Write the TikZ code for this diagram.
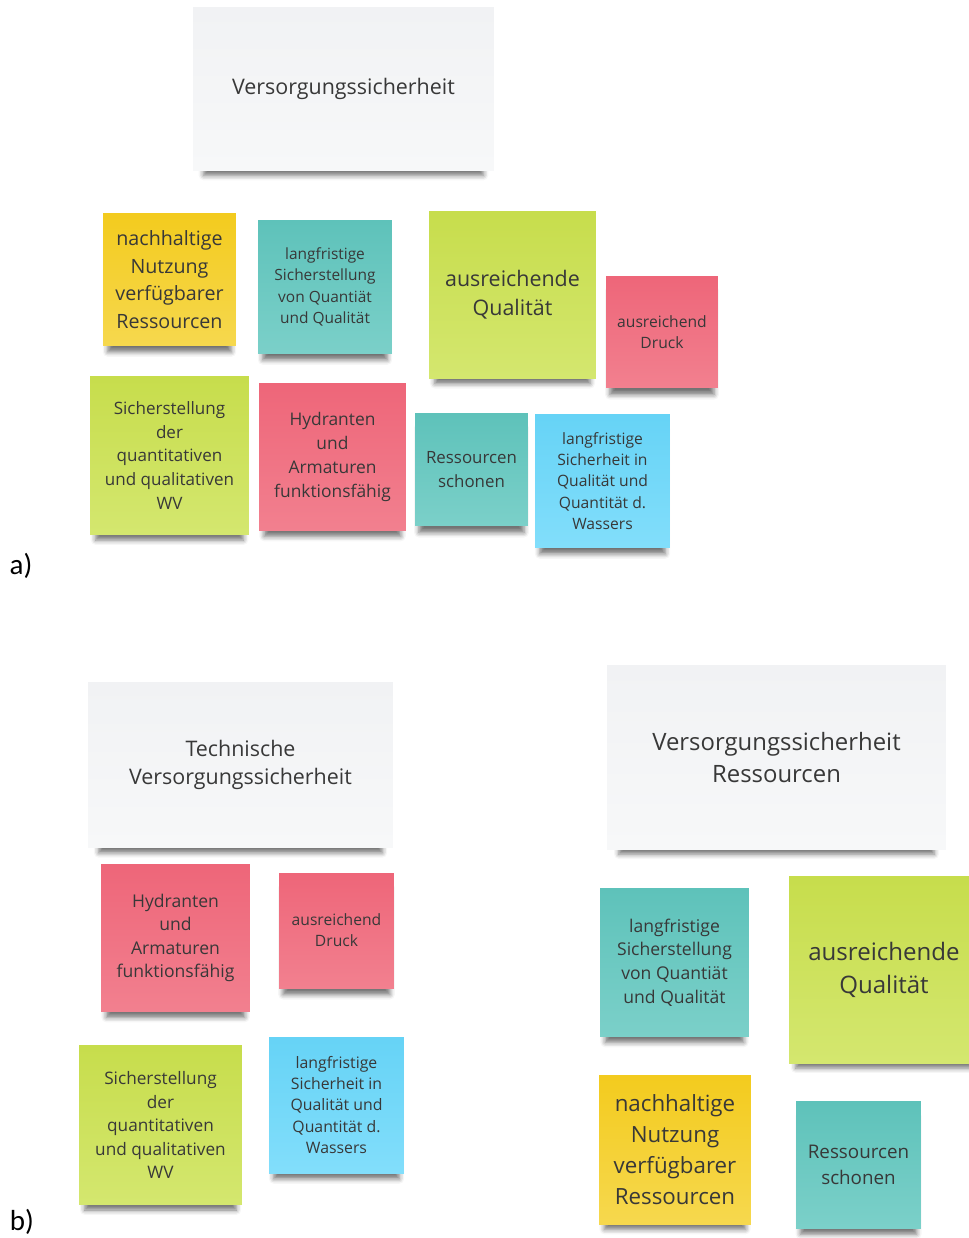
\documentclass[tikz,border=0pt]{standalone}
\usepackage{fontspec}
\setmainfont{Open Sans}
\newfontfamily\captfont{Carlito}
\usetikzlibrary{shadows.blur}

\definecolor{ink}{HTML}{383838}
\definecolor{cardtop}{HTML}{F1F2F4}
\definecolor{cardbot}{HTML}{F7F8F9}
\definecolor{yellowtop}{HTML}{F3CB1E}
\definecolor{yellowbot}{HTML}{F6D84E}
\definecolor{tealtop}{HTML}{5EC2BA}
\definecolor{tealbot}{HTML}{7BD0C9}
\definecolor{greentop}{HTML}{C7DD4C}
\definecolor{greenbot}{HTML}{D4E76F}
\definecolor{redtop}{HTML}{EE6679}
\definecolor{redbot}{HTML}{F2808F}
\definecolor{bluetop}{HTML}{66D3F6}
\definecolor{bluebot}{HTML}{82DEFB}

\tikzset{
	note/.style={inner sep=0pt, align=center, text=ink,
		blur shadow={shadow xshift=0pt, shadow yshift=-6.5pt, shadow scale=0.93,
			shadow blur radius=3pt, shadow opacity=55}},
	dims/.style 2 args={minimum width=#1, minimum height=#2},
	txt/.style 2 args={font=\fontsize{#1}{#2}\selectfont},
	card/.style={note, top color=cardtop, bottom color=cardbot},
	yellownote/.style={note, top color=yellowtop, bottom color=yellowbot},
	tealnote/.style={note, top color=tealtop, bottom color=tealbot},
	greennote/.style={note, top color=greentop, bottom color=greenbot},
	rednote/.style={note, top color=redtop, bottom color=redbot},
	bluenote/.style={note, top color=bluetop, bottom color=bluebot},
	partlabel/.style={font=\captfont\fontsize{16.5pt}{18pt}\selectfont, text=black}
}

\begin{document}
\begin{tikzpicture}[x=0.02cm, y=-0.02cm]
		\useasboundingbox (0,0) rectangle (968,1238);
		% a)
		\node[card, dims={6.02cm}{3.26cm}, txt={12.2pt}{16pt}] (aVersorg) at (343.5,89) {Versorgungssicherheit};
		\node[yellownote, dims={2.66cm}{2.66cm}, txt={11.2pt}{15.8pt}] (aNutzung) at (169.5,279.5) {nachhaltige\\Nutzung\\verfügbarer\\Ressourcen};
		\node[tealnote, dims={2.68cm}{2.68cm}, txt={8.8pt}{12.2pt}] (aLangSich) at (325,287) {langfristige\\Sicherstellung\\von Quantiät\\und Qualität};
		\node[greennote, dims={3.34cm}{3.36cm}, txt={12.2pt}{16.4pt}] (aQualitaet) at (512.5,295) {ausreichende\\Qualität};
		\node[rednote, dims={2.24cm}{2.24cm}, txt={8.9pt}{12pt}] (aDruck) at (662,332) {ausreichend\\Druck};
		\node[greennote, dims={3.18cm}{3.18cm}, txt={9.7pt}{13.6pt}] (aSicher) at (169.5,455.5) {Sicherstellung\\der\\quantitativen\\und qualitativen\\WV};
		\node[rednote, dims={2.94cm}{2.96cm}, txt={9.9pt}{13.6pt}] (aHydranten) at (332.5,457) {Hydranten\\und\\Armaturen\\funktionsfähig};
		\node[tealnote, dims={2.26cm}{2.26cm}, txt={9.6pt}{13.6pt}] (aSchonen) at (471.5,469.5) {Ressourcen\\schonen};
		\node[bluenote, dims={2.70cm}{2.68cm}, txt={8.9pt}{12.2pt}] (aLangQual) at (602.5,481) {langfristige\\Sicherheit in\\Qualität und\\Quantität d.\\Wassers};
		\node[partlabel] (aLabel) at (21,566) {a)};
		% b)
		\node[card, dims={6.10cm}{3.32cm}, txt={12.2pt}{16.4pt}] (bTechnisch) at (240.5,765) {Technische\\Versorgungssicherheit};
		\node[card, dims={6.78cm}{3.70cm}, txt={13.6pt}{18.7pt}] (bVersorgRes) at (776.5,757.5) {Versorgungssicherheit\\Ressourcen};
		\node[rednote, dims={2.98cm}{2.96cm}, txt={10pt}{13.4pt}] (bHydranten) at (175.5,938) {Hydranten\\und\\Armaturen\\funktionsfähig};
		\node[rednote, dims={2.30cm}{2.30cm}, txt={8.9pt}{12pt}] (bDruck) at (336.5,930.5) {ausreichend\\Druck};
		\node[greennote, dims={3.26cm}{3.20cm}, txt={9.8pt}{13.4pt}] (bSicher) at (160.5,1125) {Sicherstellung\\der\\quantitativen\\und qualitativen\\WV};
		\node[bluenote, dims={2.70cm}{2.72cm}, txt={9pt}{12.2pt}] (bLangQual) at (336.5,1105) {langfristige\\Sicherheit in\\Qualität und\\Quantität d.\\Wassers};
		\node[tealnote, dims={2.98cm}{2.98cm}, txt={10pt}{13.4pt}] (bLangSich) at (674.5,962.5) {langfristige\\Sicherstellung\\von Quantiät\\und Qualität};
		\node[greennote, dims={3.80cm}{3.76cm}, txt={13.7pt}{19pt}] (bQualitaet) at (884,970) {ausreichende\\Qualität};
		\node[yellownote, dims={3.04cm}{2.98cm}, txt={12.7pt}{17.6pt}] (bNutzung) at (675,1149.5) {nachhaltige\\Nutzung\\verfügbarer\\Ressourcen};
		\node[tealnote, dims={2.50cm}{2.54cm}, txt={10.7pt}{14.7pt}] (bSchonen) at (858.5,1164.5) {Ressourcen\\schonen};
		\node[partlabel] (bLabel) at (22,1222) {b)};
\end{tikzpicture}
\end{document}
